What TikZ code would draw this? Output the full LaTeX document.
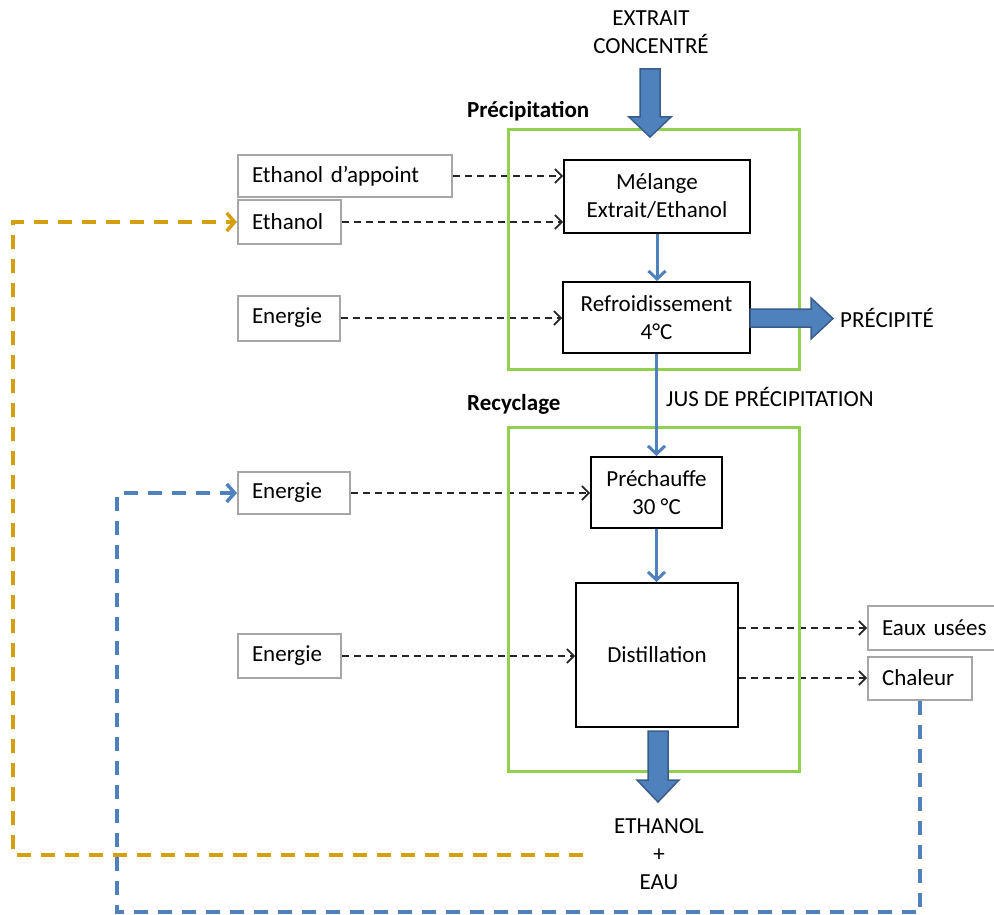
\documentclass[tikz,border=0pt]{standalone}
\usepackage{fontspec}
\setmainfont{Carlito}
\usetikzlibrary{arrows.meta}
\definecolor{bgreen}{HTML}{92D050}
\definecolor{bblue}{HTML}{4F81BD}
\definecolor{bbluedark}{HTML}{385D8A}
\definecolor{borange}{HTML}{D4A011}
\definecolor{bgray}{HTML}{A6A6A6}
\newcommand{\basefnt}{\fontsize{23}{28}\selectfont}
\begin{document}
\begin{tikzpicture}[x=1pt,y=-1pt,
  font=\basefnt,
  procbox/.style={draw=black, line width=2pt, fill=white, align=center, inner sep=0pt},
  srcbox/.style={draw=bgray, line width=2pt, fill=white, inner xsep=14pt, inner ysep=0pt, align=left},
  flow/.style={draw=black!85, line width=1.6pt, dash pattern=on 7pt off 5pt,
    -{Straight Barb[length=7pt,width=14pt]}},
  thinblue/.style={draw=bblue, line width=3pt, -{Straight Barb[length=8pt,width=17pt]}},
  loopo/.style={draw=borange, line width=3.5pt, dash pattern=on 14pt off 10pt,
    -{Straight Barb[length=8pt,width=18pt]}},
  loopb/.style={draw=bblue, line width=3.5pt, dash pattern=on 14pt off 10pt,
    -{Straight Barb[length=8pt,width=18pt]}},
  zone/.style={draw=bgreen, line width=3pt, inner sep=0pt},
  bigarrow/.style={fill=bblue, draw=bbluedark, line width=1.5pt, line join=miter},
  lbl/.style={inner sep=0pt, align=center},
  bold/.style={inner sep=0pt, font=\basefnt\bfseries}
]
\useasboundingbox (0,0) rectangle (994,915);

% process boxes
\node[procbox, minimum width=186pt, minimum height=73pt] (melange) at (657,196.5) {Mélange\\Extrait/Ethanol};
\node[procbox, minimum width=187pt, minimum height=71pt] (refroid) at (656.5,317.5) {Refroidissement\\4°C};
\node[procbox, minimum width=131pt, minimum height=71pt] (prech) at (656.5,492.5) {Préchauffe\\30 °C};
\node[procbox, minimum width=162pt, minimum height=144pt] (distil) at (657,655) {Distillation};

% source / sink boxes
\node[srcbox, text width=186pt, minimum height=42pt] (ethapp) at (345,176) {Ethanol d’appoint};
\node[srcbox, text width=75pt, minimum height=43pt] (ethanol) at (289.5,222) {Ethanol};
\node[srcbox, text width=74pt, minimum height=45pt] (en1) at (289,318) {Energie};
\node[srcbox, text width=84pt, minimum height=42pt] (en2) at (294,493) {Energie};
\node[srcbox, text width=75pt, minimum height=44pt] (en3) at (289.5,656) {Energie};
\node[srcbox, text width=130pt, minimum height=44pt] (eaux) at (947,628) {Eaux usées};
\node[srcbox, text width=76pt, minimum height=43pt] (chaleur) at (920,678) {Chaleur};

% dashed flows
\draw[flow] (ethapp.east) -- (ethapp.east -| melange.west);
\draw[flow] (ethanol.east) -- (ethanol.east -| melange.west);
\draw[flow] (en1.east) -- (en1.east -| refroid.west);
\draw[flow] (en2.east) -- (en2.east -| prech.west);
\draw[flow] (en3.east) -- (en3.east -| distil.west);
\draw[flow] (distil.east |- eaux.west) -- (eaux.west);
\draw[flow] (distil.east |- chaleur.west) -- (chaleur.west);

% zones
\node[zone, minimum width=291pt, minimum height=239pt] (zoneP) at (653.5,249.5) {};
\node[zone, minimum width=291pt, minimum height=344pt] (zoneR) at (653.5,599) {};
\node[bold, anchor=west] (lblP) at (467,111) {Précipitation};
\node[bold, anchor=west] (lblR) at (467,404) {Recyclage};

% thin blue connectors
\draw[thinblue] (melange.south) -- (melange.south |- refroid.north);
\draw[thinblue] (refroid.south) -- (refroid.south |- prech.north);
\draw[thinblue] (prech.south) -- (prech.south |- distil.north);

% labels
\node[lbl] (extrait) at (651,32) {EXTRAIT\\CONCENTRÉ};
\node[lbl, anchor=west] (precipite) at (840,318) {PRÉCIPITÉ};
\node[lbl, anchor=west] (jus) at (666,397) {JUS DE PRÉCIPITATION};
\node[lbl] (ethout) at (659,854) {ETHANOL\\+\\EAU};

% big block arrows
\draw[bigarrow] (640,69) -- (660,69) -- (660,117) -- (671,117) -- (650,137) -- (629,117) -- (640,117) -- cycle;
\draw[bigarrow] (750,309) -- (811,309) -- (811,298) -- (833,318.5) -- (811,339) -- (811,327) -- (750,327) -- cycle;
\draw[bigarrow] (648,731) -- (668,731) -- (668,780) -- (679,780) -- (658,802) -- (637,780) -- (648,780) -- cycle;

% recycle loops
\coordinate (ostart) at (583,855);
\coordinate (ocorner) at (13,855);
\draw[loopo] (ostart) -- (ocorner) -- (ocorner |- ethanol.west) -- (ethanol.west);
\coordinate (bcorner1) at (chaleur.south |- 0,912);
\coordinate (bcorner2) at (117,912);
\draw[loopb] (chaleur.south) -- (bcorner1) -- (bcorner2) -- (bcorner2 |- en2.west) -- (en2.west);
\end{tikzpicture}
\end{document}
